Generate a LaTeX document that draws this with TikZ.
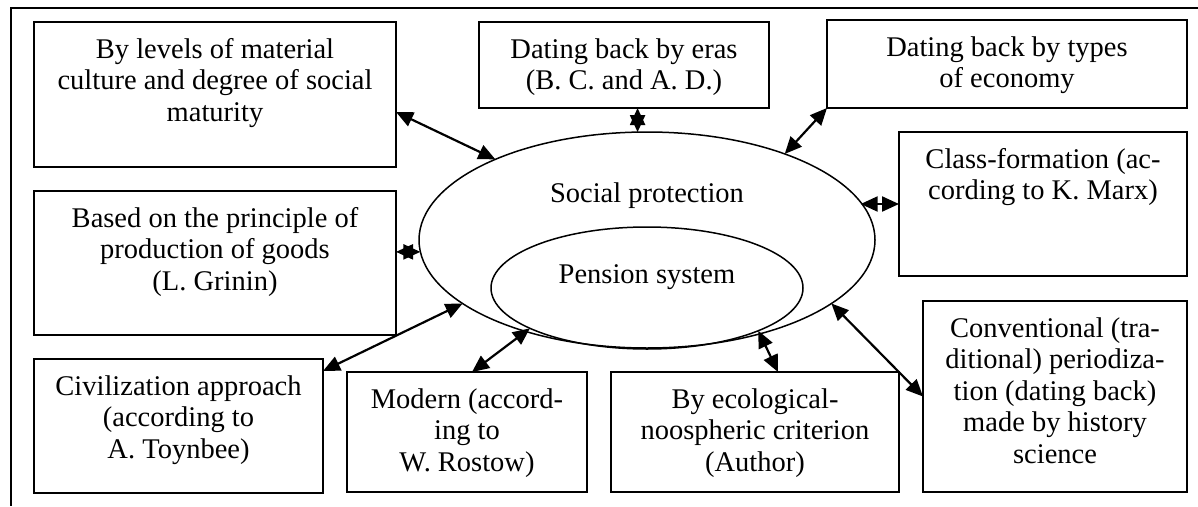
\documentclass[tikz,border=0pt]{standalone}
\usepackage{fontspec}
\setmainfont{Liberation Serif}
\usetikzlibrary{shapes.geometric,arrows.meta,calc}
\begin{document}
\begin{tikzpicture}[x=1pt,y=-1pt,
  box/.style={draw, rectangle, line width=2pt, inner sep=0pt, outer sep=0pt},
  ell/.style={draw, ellipse, line width=1.5pt, inner sep=0pt, outer sep=0pt},
  txt/.style={inner sep=0pt, anchor=base, font=\fontsize{28.5}{31.5}\selectfont},
  dbl/.style={line width=2.2pt, {Triangle[length=17pt,width=15pt]}-{Triangle[length=17pt,width=15pt]}}]
\useasboundingbox (0,0) rectangle (1198,506);
% outer frame (cropped)
\draw[line width=2pt] (1198,8) -- (11,8) -- (11,506);
% ellipses
\node[ell, minimum width=456pt, minimum height=216pt] (sp) at (647,240) {};
\node[ell, minimum width=312pt, minimum height=122pt] (pen) at (647,288) {};
\node[txt] (spt) at (647,202) {Social protection};
\node[txt] (pent) at (647,283) {Pension system};
% boxes
\node[box, minimum width=362pt, minimum height=145pt] (b1) at (215,94.5) {};
\node[box, minimum width=290pt, minimum height=86pt] (b2) at (624,65) {};
\node[box, minimum width=360pt, minimum height=88pt] (b3) at (1007,64) {};
\node[box, minimum width=288pt, minimum height=144pt] (b4) at (1043,204) {};
\node[box, minimum width=362pt, minimum height=144pt] (b5) at (215,263) {};
\node[box, minimum width=264pt, minimum height=191pt] (b6) at (1055,396.5) {};
\node[box, minimum width=289pt, minimum height=134pt] (b7) at (178.5,426) {};
\node[box, minimum width=240pt, minimum height=120pt] (b8) at (467,432) {};
\node[box, minimum width=288pt, minimum height=120pt] (b9) at (755,432) {};
% box texts
\node[txt] (t1) at ([yshift=-36pt]b1.north) {\parbox[t]{360pt}{\centering By levels of material\\culture and degree of social\\maturity}};
\node[txt] (t2) at ([yshift=-36pt]b2.north) {\parbox[t]{288pt}{\centering Dating back by eras\\(B. C. and A. D.)}};
\node[txt] (t3) at ([yshift=-36pt]b3.north) {\parbox[t]{358pt}{\centering Dating back by types\\of economy}};
\node[txt] (t4) at ([yshift=-36pt]b4.north) {\parbox[t]{286pt}{\centering Class-formation (ac-\\cording to K. Marx)}};
\node[txt] (t5) at ([yshift=-36pt]b5.north) {\parbox[t]{360pt}{\centering Based on the principle of\\production of goods\\(L. Grinin)}};
\node[txt] (t6) at ([yshift=-36pt]b6.north) {\parbox[t]{262pt}{\centering Conventional (tra-\\ditional) periodiza-\\tion (dating back)\\made by history\\science}};
\node[txt] (t7) at ([yshift=-36pt]b7.north) {\parbox[t]{287pt}{\centering Civilization approach\\(according to\\A. Toynbee)}};
\node[txt] (t8) at ([yshift=-36pt]b8.north) {\parbox[t]{238pt}{\centering Modern (accord-\\ing to\\W. Rostow)}};
\node[txt] (t9) at ([yshift=-36pt]b9.north) {\parbox[t]{286pt}{\centering By ecological-\\noospheric criterion\\(Author)}};
% connectors
\draw[dbl] ([yshift=-17.5pt]b1.east) -- (sp.152);
\draw[dbl] (b2.south -| sp.95) -- (sp.95);
\draw[dbl] (b3.south west) -- (sp.32);
\draw[dbl] (b4.west) -- (sp.10 |- b4.west);
\draw[dbl] (b5.east |- sp.183) -- (sp.183);
\draw[dbl] ([yshift=-12pt]b7.north east) -- (sp.199);
\draw[dbl] ([xshift=5pt]b8.north) -- (pen.199);
\draw[dbl] ([xshift=23pt]b9.north) -- (pen.339);
\draw[dbl] (b6.west) -- (sp.341);
\end{tikzpicture}
\end{document}
